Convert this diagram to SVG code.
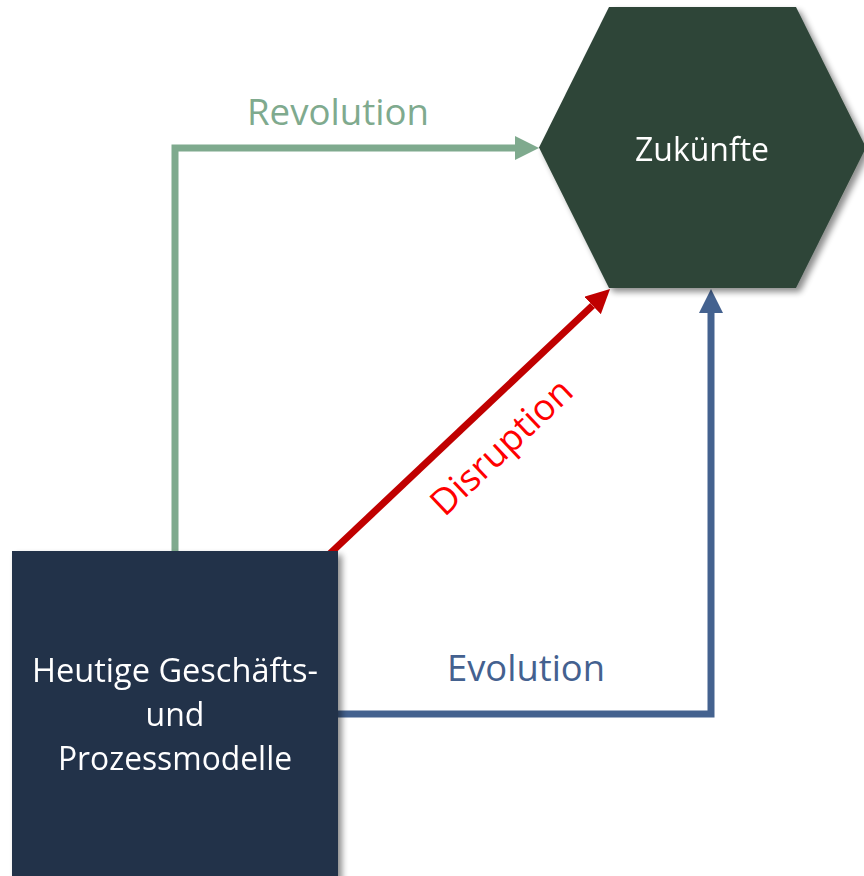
<svg xmlns="http://www.w3.org/2000/svg" width="864" height="876" viewBox="0 0 864 876">
  <style>
    .lbl { font-family: "Open Sans", "Liberation Sans", sans-serif; }
    .node-text { fill: #ffffff; font-size: 32px; text-anchor: middle; }
    .edge { fill: none; stroke-width: 7; stroke-linejoin: miter; }
  </style>
  <defs>
    <filter id="shadow" x="-10%" y="-10%" width="130%" height="130%">
      <feGaussianBlur in="SourceAlpha" stdDeviation="3"/>
      <feOffset dx="4" dy="4" result="b"/>
      <feComponentTransfer><feFuncA type="linear" slope="0.45"/></feComponentTransfer>
      <feMerge><feMergeNode/><feMergeNode in="SourceGraphic"/></feMerge>
    </filter>
    <marker id="head-green" markerUnits="userSpaceOnUse" markerWidth="24" markerHeight="24" refX="0" refY="12" orient="auto">
      <path d="M0,0 L24,12 L0,24 Z" fill="#7FAA8E"/>
    </marker>
    <marker id="head-red" markerUnits="userSpaceOnUse" markerWidth="24" markerHeight="24" refX="0" refY="12" orient="auto">
      <path d="M0,0 L24,12 L0,24 Z" fill="#C00000"/>
    </marker>
    <marker id="head-blue" markerUnits="userSpaceOnUse" markerWidth="24" markerHeight="24" refX="0" refY="12" orient="auto">
      <path d="M0,0 L24,12 L0,24 Z" fill="#44628F"/>
    </marker>
  </defs>

  <rect width="864" height="876" fill="#ffffff"/>

  <!-- connectors -->
  <g id="connectors">
    <path class="edge" d="M175,560 L175,148 L515,148" stroke="#7FAA8E" marker-end="url(#head-green)"/>
    <path class="edge" d="M320,563 L592.6,305.5" stroke="#C00000" marker-end="url(#head-red)"/>
    <path class="edge" d="M330,714 L711,714 L711,313" stroke="#44628F" marker-end="url(#head-blue)"/>
    <text class="lbl" x="338" y="125" font-size="36" fill="#7FAA8E" text-anchor="middle" textLength="182" lengthAdjust="spacingAndGlyphs">Revolution</text>
    <text class="lbl" x="526" y="681" font-size="36" fill="#44618F" text-anchor="middle" textLength="158" lengthAdjust="spacingAndGlyphs">Evolution</text>
    <text class="lbl" transform="translate(510,456) rotate(-43.4)" font-size="36" fill="#FF0000" text-anchor="middle" textLength="180" lengthAdjust="spacingAndGlyphs">Disruption</text>
  </g>

  <!-- current business and process models -->
  <g id="node-today" filter="url(#shadow)">
    <rect x="12" y="551" width="326" height="340" fill="#223049"/>
    <text class="lbl node-text" x="175" y="682" textLength="286" lengthAdjust="spacingAndGlyphs">Heutige Geschäfts-</text>
    <text class="lbl node-text" x="175" y="726">und</text>
    <text class="lbl node-text" x="175" y="770" textLength="234" lengthAdjust="spacingAndGlyphs">Prozessmodelle</text>
  </g>

  <!-- futures -->
  <g id="node-futures" filter="url(#shadow)">
    <polygon points="539,147.5 609,7 796,7 866,147.5 796,288 609,288" fill="#2F4538"/>
    <text class="lbl node-text" x="702" y="161" textLength="134" lengthAdjust="spacingAndGlyphs">Zukünfte</text>
  </g>
</svg>
